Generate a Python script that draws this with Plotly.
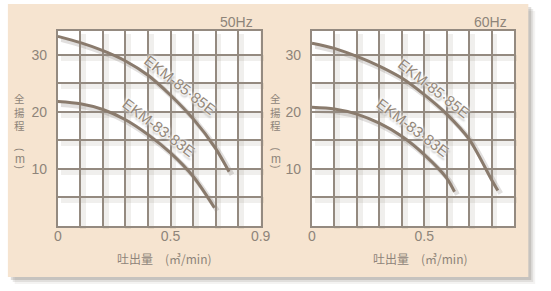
import plotly.graph_objects as go

# ---------------- data ----------------
Q50_85 = [0, 0.1, 0.2, 0.3, 0.4, 0.5, 0.6, 0.7, 0.76]
H50_85 = [33.2, 32.1, 30.7, 28.9, 26.4, 22.9, 18.8, 13.6, 9.5]
Q50_83 = [0, 0.1, 0.2, 0.3, 0.4, 0.5, 0.6, 0.695]
H50_83 = [21.8, 21.4, 20.4, 18.6, 16.0, 12.8, 8.7, 3.2]

Q60_85 = [0, 0.1, 0.2, 0.3, 0.4, 0.5, 0.6, 0.7, 0.8, 0.828]
H60_85 = [32.0, 31.1, 29.7, 28.0, 25.9, 23.0, 19.6, 15.2, 8.1, 6.2]
Q60_83 = [0, 0.1, 0.2, 0.3, 0.4, 0.5, 0.6, 0.635]
H60_83 = [20.8, 20.5, 19.6, 18.0, 15.7, 12.5, 8.4, 6.0]

LABEL_85 = "EKM-85·85E"
LABEL_83 = "EKM-83·83E"
FREQ_L = "50Hz"
FREQ_R = "60Hz"

X_TICKS = [0, 0.1, 0.2, 0.3, 0.4, 0.5, 0.6, 0.7, 0.8, 0.9]
X_TEXT_L = ["0", "", "", "", "", "0.5", "", "", "", "0.9"]
X_TEXT_R = ["0", "", "", "", "", "0.5", "", "", "", ""]
Y_TICKS = [0, 5, 10, 15, 20, 25, 30]
Y_TEXT = ["", "", "10", "", "20", "", "30"]
Y_MAX = 34.2
X_MAX = 0.9

X_TITLE = "吐出量　(㎥/min)"
Y_TITLE = "全<br>揚<br>程"

# ---------------- styling ----------------
W, H = 551, 291
PEACH = "#F6E4D0"
GRID = "#948a80"
CURVE = "#8a7b6d"
TEXT = "#8e847a"
LBL = "#938779"
SHADOW = "rgba(70,50,30,0.08)"
SHADOW_C = "rgba(40,30,20,0.14)"

DOM_L = [55.3 / W, 263.3 / W]
DOM_R = [316.0 / W, 523.3 / W]
DOM_Y = [1 - 226.0 / H, 1 - 30.7 / H]
SX, SY = 3.0 / W, 3.0 / H


def shift_x(d):
    return [d[0] + SX, d[1] + SX]


def shift_y(d):
    return [d[0] - SY, d[1] - SY]


fig = go.Figure()

panels = [
    ((Q50_85, H50_85), (Q50_83, H50_83)),
    ((Q60_85, H60_85), (Q60_83, H60_83)),
]

# shadow subplots: x/y (left), x2/y2 (right); main: x3/y3, x4/y4
for i, pan in enumerate(panels):
    sx = "x" if i == 0 else "x2"
    sy = "y" if i == 0 else "y2"
    mx = "x3" if i == 0 else "x4"
    my = "y3" if i == 0 else "y4"
    for q, h in pan:
        fig.add_trace(go.Scatter(x=q, y=h, xaxis=sx, yaxis=sy, mode="lines",
                                 line=dict(color=SHADOW_C, width=5, shape="spline", smoothing=0.8),
                                 hoverinfo="skip"))
    for q, h in pan:
        fig.add_trace(go.Scatter(x=q, y=h, xaxis=mx, yaxis=my, mode="lines",
                                 line=dict(color=CURVE, width=3, shape="spline", smoothing=0.8),
                                 hoverinfo="skip"))

tickfont = dict(family="Liberation Sans", size=14, color=TEXT)

shadow_x = dict(range=[0, X_MAX], tickvals=X_TICKS, showticklabels=False, showgrid=True,
                gridcolor=SHADOW, gridwidth=6, zeroline=False, showline=False, fixedrange=True)
shadow_y = dict(range=[0, Y_MAX], tickvals=Y_TICKS + [Y_MAX], showticklabels=False, showgrid=True,
                gridcolor=SHADOW, gridwidth=6, zeroline=False, showline=False, fixedrange=True)

main_x = dict(range=[0, X_MAX], tickvals=X_TICKS, showgrid=True, gridcolor=GRID, gridwidth=2,
              zeroline=False, showline=True, linecolor=GRID, linewidth=2, mirror=True,
              ticks="", tickfont=tickfont, ticklabelstandoff=-4, fixedrange=True)
main_y = dict(range=[0, Y_MAX], tickvals=Y_TICKS, ticktext=Y_TEXT, showgrid=True, gridcolor=GRID,
              gridwidth=2, zeroline=False, showline=True, linecolor=GRID, linewidth=2, mirror=True,
              ticks="", tickfont=tickfont, ticklabelstandoff=6, fixedrange=True)

fig.update_layout(
    width=W, height=H,
    margin=dict(l=0, r=0, t=0, b=0),
    paper_bgcolor="white",
    plot_bgcolor="rgba(0,0,0,0)",
    showlegend=False,
    hovermode=False,
    xaxis=dict(shadow_x, domain=shift_x(DOM_L), anchor="y"),
    yaxis=dict(shadow_y, domain=shift_y(DOM_Y), anchor="x"),
    xaxis2=dict(shadow_x, domain=shift_x(DOM_R), anchor="y2"),
    yaxis2=dict(shadow_y, domain=shift_y(DOM_Y), anchor="x2"),
    xaxis3=dict(main_x, domain=DOM_L, anchor="y3", ticktext=X_TEXT_L),
    yaxis3=dict(main_y, domain=DOM_Y, anchor="x3"),
    xaxis4=dict(main_x, domain=DOM_R, anchor="y4", ticktext=X_TEXT_R),
    yaxis4=dict(main_y, domain=DOM_Y, anchor="x4"),
)

# background box with drop shadow, white plot areas
shapes = []
for off, a in [(7, 0.06), (5, 0.10), (3, 0.16)]:
    shapes.append(dict(type="rect", xref="paper", yref="paper", layer="below",
                       x0=(4 + off) / W, x1=(538 + off) / W, y0=1 - (277 + off) / H, y1=1 - (4 + off) / H,
                       line=dict(width=0), fillcolor=f"rgba(60,50,40,{a})"))
shapes.append(dict(type="rect", xref="paper", yref="paper", layer="below",
                   x0=4 / W, x1=538 / W, y0=1 - 277 / H, y1=1 - 4 / H,
                   line=dict(width=0), fillcolor=PEACH))
for d in (DOM_L, DOM_R):
    shapes.append(dict(type="rect", xref="paper", yref="paper", layer="below",
                       x0=d[0], x1=d[1], y0=DOM_Y[0], y1=DOM_Y[1],
                       line=dict(width=0), fillcolor="white"))
fig.update_layout(shapes=shapes)

ann = []
lblfont = dict(family="Liberation Sans", size=15, color=LBL,
               shadow="0 0 3px #fff, 0 0 3px #fff, 0 0 5px #fff, 2px 2px 2px rgba(0,0,0,0.3)")
# curve labels
for xr, yr, x, y, t, ang in [
    ("x3", "y3", 0.540, 24.7, LABEL_85, 38),
    ("x3", "y3", 0.449, 17.3, LABEL_83, 37),
    ("x4", "y4", 0.545, 24.1, LABEL_85, 38),
    ("x4", "y4", 0.450, 17.3, LABEL_83, 37),
]:
    ann.append(dict(xref=xr, yref=yr, x=x, y=y, text=t, textangle=ang, showarrow=False,
                    font=lblfont, xanchor="center", yanchor="middle"))

# frequency labels
ann.append(dict(xref="paper", yref="paper", x=258 / W, y=1 - 22.5 / H, text=FREQ_L, showarrow=False,
                xanchor="right", yanchor="middle", font=dict(family="Liberation Sans", size=14, color=TEXT)))
ann.append(dict(xref="paper", yref="paper", x=518.5 / W, y=1 - 22.5 / H, text=FREQ_R, showarrow=False,
                xanchor="right", yanchor="middle", font=dict(family="Liberation Sans", size=14, color=TEXT)))

cjk = dict(family="Noto Sans CJK JP", size=12, color=TEXT)
for tx in (165, 427):
    ann.append(dict(xref="paper", yref="paper", x=tx / W, y=1 - 258 / H, text=X_TITLE, showarrow=False,
                    xanchor="center", yanchor="middle", font=cjk))

for xc in (16, 279):
    ann.append(dict(xref="paper", yref="paper", x=xc / W, y=1 - 112 / H, text=Y_TITLE, showarrow=False,
                    xanchor="center", yanchor="middle",
                    font=dict(family="Noto Sans CJK JP", size=10.5, color=TEXT)))
    ann.append(dict(xref="paper", yref="paper", x=xc / W, y=1 - 158.5 / H,
                    text="(", textangle=90,
                    showarrow=False, xanchor="center", yanchor="bottom", yshift=5,
                    font=dict(family="Liberation Sans", size=10, color=TEXT)))
    ann.append(dict(xref="paper", yref="paper", x=xc / W, y=1 - 158.5 / H, text="m",
                    showarrow=False, xanchor="center", yanchor="middle",
                    font=dict(family="Liberation Sans", size=12, color=TEXT)))
    ann.append(dict(xref="paper", yref="paper", x=xc / W, y=1 - 158.5 / H,
                    text=")", textangle=90,
                    showarrow=False, xanchor="center", yanchor="top", yshift=-5,
                    font=dict(family="Liberation Sans", size=10, color=TEXT)))

fig.update_layout(annotations=ann)

fig.write_html("out.html")
